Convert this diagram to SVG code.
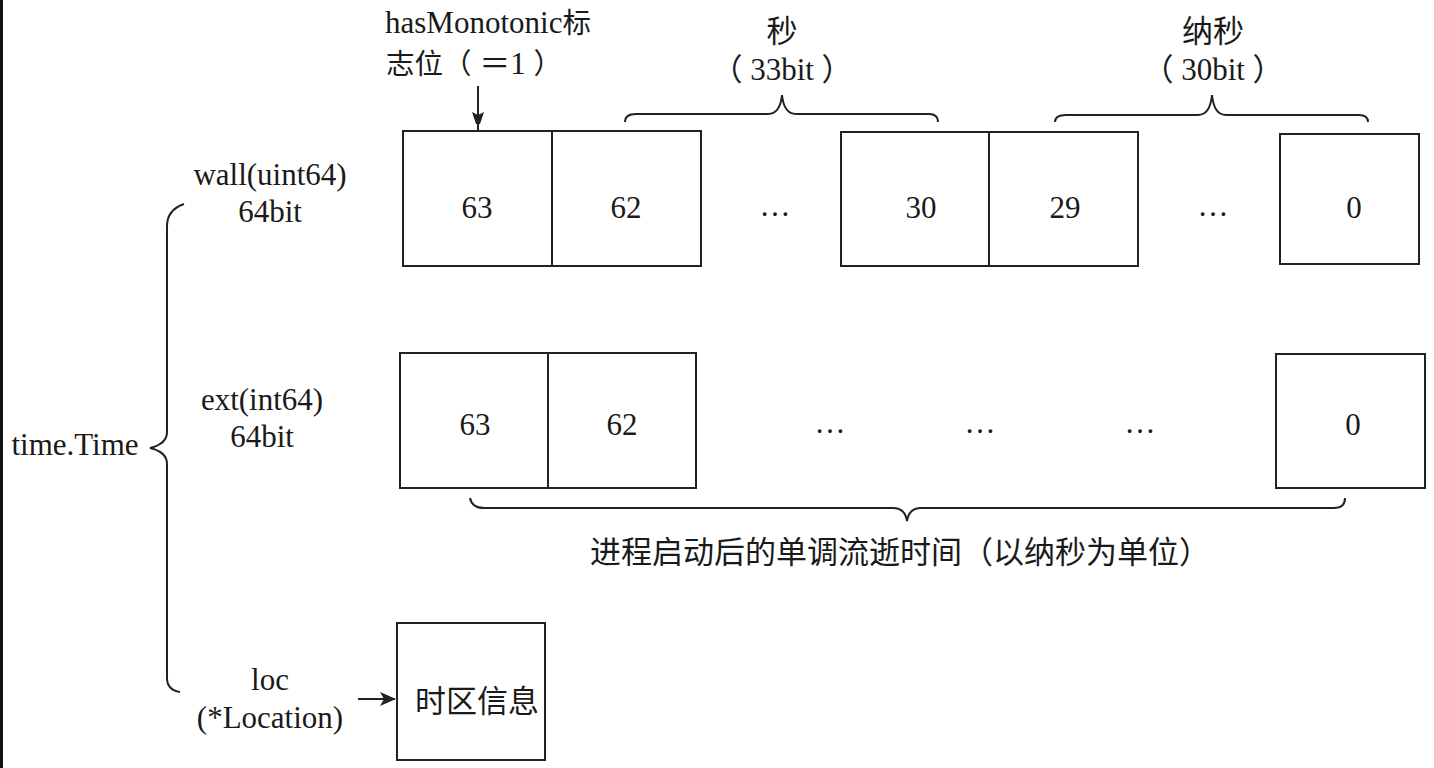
<svg xmlns="http://www.w3.org/2000/svg" width="1434" height="768" viewBox="0 0 1434 768">
<defs>
<style>
.t{font-family:"Liberation Serif","Noto Sans CJK SC",serif;font-size:31px;fill:#1a1a1a;text-anchor:middle}
.c{font-family:"Noto Sans CJK SC","Liberation Serif",serif;font-size:31px;fill:#1a1a1a;text-anchor:middle}
.k{font-family:"Noto Sans CJK SC",serif}
.b{fill:#fff;stroke:#222;stroke-width:2}
.l{fill:none;stroke:#222;stroke-width:2}
</style>
<marker id="ah" markerWidth="12" markerHeight="18" refX="18" refY="6" orient="auto" markerUnits="userSpaceOnUse">
<path d="M0,0 L18,6 L0,12 L3,6 Z" fill="#222"/>
</marker>
<marker id="ah2" markerWidth="16" markerHeight="14" refX="15" refY="7" orient="auto" markerUnits="userSpaceOnUse">
<path d="M0,0 L16,7 L0,14 L4,7 Z" fill="#222"/>
</marker>
</defs>
<rect x="0" y="0" width="1434" height="768" fill="#fff"/>
<rect x="0" y="0" width="3" height="768" fill="#111"/>

<g id="time-label"><text class="t" x="75" y="455">time.Time</text></g>

<g id="wall-label"><text class="t" x="270" y="185">wall(uint64)</text><text class="t" x="270" y="222">64bit</text></g>
<g id="ext-label"><text class="t" x="262" y="410">ext(int64)</text><text class="t" x="262" y="447">64bit</text></g>
<g id="loc-label"><text class="t" x="270" y="690">loc</text><text class="t" x="270" y="728">(*Location)</text></g>

<g id="hasmono-label"><text class="t" font-size="30"><tspan x="488" y="33">hasMonotonic<tspan class="k" font-size="28.5">标</tspan></tspan><tspan x="474" y="74"><tspan class="k" font-size="28.5">志位（</tspan> ＝1 <tspan class="k" font-size="28.5">）</tspan></tspan></text></g>
<g id="sec-label"><text class="c" x="782" y="42">秒</text><text class="t" x="782" y="80"><tspan class="k">（</tspan> 33bit <tspan class="k">）</tspan></text></g>
<g id="nsec-label"><text class="c" x="1213" y="42">纳秒</text><text class="t" x="1213" y="80"><tspan class="k">（</tspan> 30bit <tspan class="k">）</tspan></text></g>

<g id="wall-bits">
<rect class="b" x="403" y="131" width="149" height="135"/>
<rect class="b" x="552" y="131" width="149" height="135"/>
<rect class="b" x="841" y="132" width="148" height="134"/>
<rect class="b" x="989" y="132" width="149" height="134"/>
<rect class="b" x="1280" y="134" width="139" height="130"/>
<text class="t" x="477" y="218">63</text>
<text class="t" x="626" y="218">62</text>
<text class="t" x="775" y="216">…</text>
<text class="t" x="921" y="218">30</text>
<text class="t" x="1065" y="218">29</text>
<text class="t" x="1213" y="216">…</text>
<text class="t" x="1354" y="218">0</text>
</g>

<g id="ext-bits">
<rect class="b" x="400" y="353" width="148" height="135"/>
<rect class="b" x="548" y="353" width="148" height="135"/>
<rect class="b" x="1276" y="354" width="149" height="134"/>
<text class="t" x="475" y="435">63</text>
<text class="t" x="622" y="435">62</text>
<text class="t" x="830" y="433">…</text>
<text class="t" x="980" y="433">…</text>
<text class="t" x="1140" y="433">…</text>
<text class="t" x="1353" y="435">0</text>
</g>

<g id="mono-label"><text class="c" x="900" y="563" font-size="32.5">进程启动后的单调流逝时间（以纳秒为单位）</text></g>

<g id="tz-box">
<rect class="b" x="397" y="623" width="148" height="137"/>
<text class="c" x="477" y="712" font-size="32">时区信息</text>
</g>

<g id="connectors">
<path class="l" d="M478,86 L478,130" marker-end="url(#ah)"/>
<path class="l" d="M358,699 L395,699" marker-end="url(#ah2)"/>
<path class="l" d="M184,204 Q167,210 167,226 L167,432 Q167,444 150,448 Q167,452 167,464 L167,678 Q167,690 180,692"/>
<path class="l" d="M625,122 Q625,114 636,114 L768,114 Q780,114 782,95 Q784,114 796,114 L929,114 Q938,114 938,122"/>
<path class="l" d="M1055,122 Q1055,115 1066,115 L1198,115 Q1210,115 1212,95 Q1214,115 1226,115 L1359,115 Q1368,115 1368,122"/>
<path class="l" d="M470,498 Q472,508 484,508 L893,508 Q905,508 907,521 Q909,508 921,508 L1334,508 Q1345,508 1345,498"/>
</g>
</svg>
